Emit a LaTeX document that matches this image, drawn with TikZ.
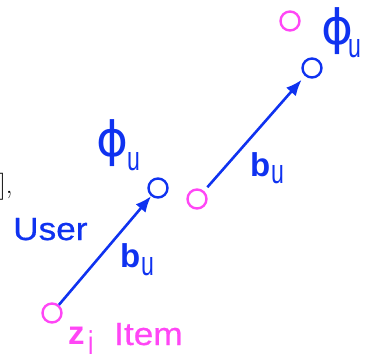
\documentclass[tikz,border=0pt]{standalone}
\usepackage{fontspec}
\usetikzlibrary{arrows.meta}
\setmainfont{Liberation Sans}
\newfontfamily\lab[FakeStretch=1.1,FakeBold=0.6]{Liberation Sans}
\newfontfamily\phifont{DejaVu Sans}
\definecolor{ublue}{RGB}{15,50,240}
\definecolor{ipink}{RGB}{255,70,245}
\newcommand{\subu}{\fontsize{22}{22}\selectfont\scalebox{1.05}[1.55]{u}}
\newcommand{\phig}{\phifont\resizebox*{32pt}{47pt}{ϕ}}
\tikzset{
  pt/.style={circle, draw, line width=2.4pt, minimum size=19pt, inner sep=0pt},
  upt/.style={pt, draw=ublue},
  ipt/.style={pt, draw=ipink},
  vec/.style={draw=ublue, line width=2.6pt, -{Latex[length=16pt,width=13pt]}},
  txt/.style={inner sep=0pt, anchor=base west},
  bigtxt/.style={txt, font=\lab\fontsize{32}{32}\selectfont},
  boldtxt/.style={txt, font=\bfseries\fontsize{33}{33}\selectfont},
  subtxt/.style={txt},
  phi/.style={inner sep=0pt, anchor=center, text=ublue}
}
\begin{document}
\begin{tikzpicture}[x=1pt,y=-1pt]
\useasboundingbox (0,0) rectangle (377,353);
% points
\node[ipt] (z1) at (52,313) {};
\node[upt] (u1) at (158,188) {};
\node[ipt] (z2) at (197,199) {};
\node[upt] (u2) at (312,68) {};
\node[ipt] (z3) at (290,21) {};
% vectors
\draw[vec] (z1) -- (u1);
\draw[vec, shorten <=5pt, shorten >=5pt] (z2) -- (u2);
% labels
\node[txt] (br) at (-1,193) {\fontspec{Latin Modern Roman}\fontsize{27}{27}\selectfont],};
\node[bigtxt, text=ublue] (user) at (13,240) {User};
\node[bigtxt, text=ipink] (item) at (114,345) {Item};
\node[boldtxt, text=ipink] (zb) at (68,344) {z};
\node[subtxt, text=ipink] (zi) at (88,354) {\fontsize{22}{22}\selectfont\scalebox{1.1}[1.5]{i}};
\node[boldtxt, text=ublue] (b1) at (120,267) {b};
\node[subtxt, text=ublue] (b1u) at (141,275) {\subu};
\node[boldtxt, text=ublue] (b2) at (250,176) {b};
\node[subtxt, text=ublue] (b2u) at (271,183) {\subu};
\node[phi] (p1) at (113,143.5) {\phig};
\node[subtxt, text=ublue] (p1u) at (127,170) {\subu};
\node[phi] (p2) at (337.5,31.5) {\phig};
\node[subtxt, text=ublue] (p2u) at (348,57) {\subu};
\end{tikzpicture}
\end{document}
